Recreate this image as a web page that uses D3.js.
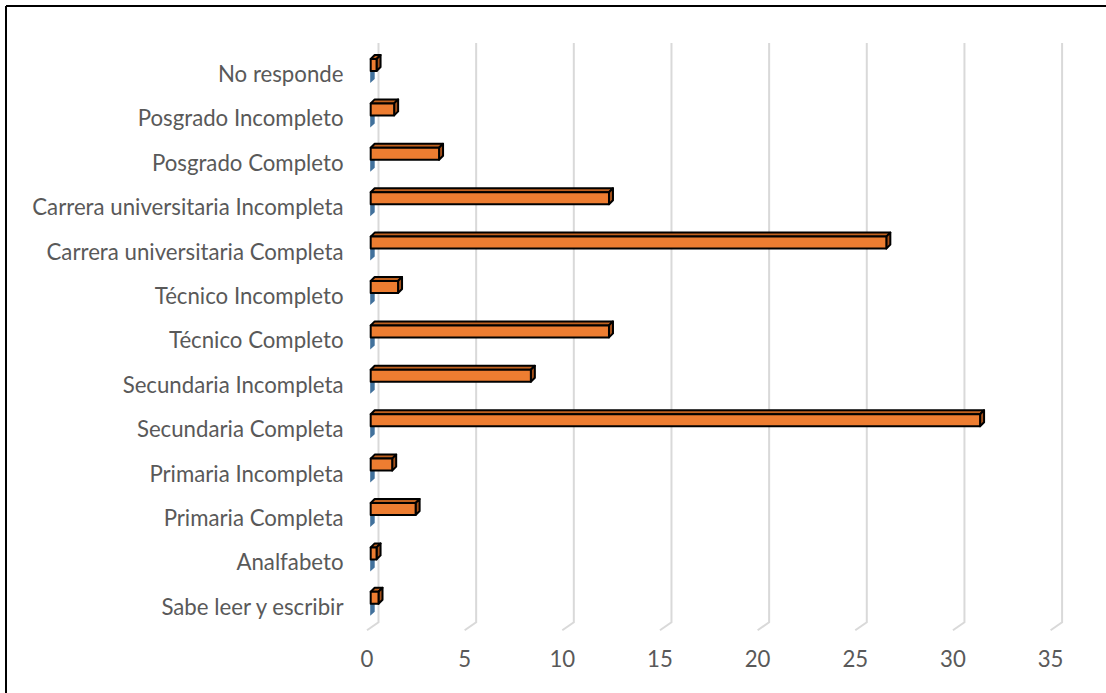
<!DOCTYPE html>
<html>
<head>
<meta charset="utf-8">
<script src="https://cdn.jsdelivr.net/npm/d3@7"></script>
<style>
  html, body { margin: 0; padding: 0; background: #fff; }
  svg { display: block; }
</style>
</head>
<body>
<svg id="chart" width="1106" height="693"></svg>
<script>
// ---- data (bottom to top as in the source sheet) ----
const categories = [
  "Sabe leer y escribir",
  "Analfabeto",
  "Primaria Completa",
  "Primaria Incompleta",
  "Secundaria Completa",
  "Secundaria Incompleta",
  "Técnico Completo",
  "Técnico Incompleto",
  "Carrera universitaria Completa",
  "Carrera universitaria Incompleta",
  "Posgrado Completo",
  "Posgrado Incompleto",
  "No responde"
];
const seriesMain = [0.4, 0.3, 2.3, 1.1, 31.2, 8.2, 12.2, 1.4, 26.4, 12.2, 3.5, 1.2, 0.3];
const seriesSecond = [0, 0, 0, 0, 0, 0, 0, 0, 0, 0, 0, 0, 0];
const tickValues = [0, 5, 10, 15, 20, 25, 30, 35];

// ---- layout ----
const svg = d3.select("#chart");
const W = 1106, H = 693;

const x = d3.scaleLinear().domain([0, 35]).range([367, 1050.6]);
const y = d3.scaleBand().domain(categories.slice().reverse()).range([51, 51 + 13 * 44.4]).paddingInner(0);

const backDx = 11.5, backDy = -8;   // floor depth
const gridTop = 43;
const floorFront = y.range()[1] + 2; // ~630
const barDx = 4, barDy = -4;         // bar depth
const barShift = 3.7;                 // bar plane offset from floor front
const barH = 12;

const textColor = "#595959";
const fontFamily = "Lato, 'Open Sans', 'Liberation Sans', sans-serif";

// border (top and left visible)
svg.append("line").attr("x1", 6).attr("y1", 6).attr("x2", W).attr("y2", 6)
  .attr("stroke", "#000").attr("stroke-width", 2);
svg.append("line").attr("x1", 6).attr("y1", 6).attr("x2", 6).attr("y2", H)
  .attr("stroke", "#000").attr("stroke-width", 2);

// font size fitted to the longest label width
const probe = svg.append("text").attr("font-family", fontFamily).attr("font-size", 20)
  .text("Carrera universitaria Completa");
const probeLen = probe.node().getComputedTextLength();
probe.remove();
const fontSize = Math.min(26, 20 * 297 / probeLen);

// gridlines
const grid = svg.append("g");
tickValues.forEach(v => {
  const xf = x(v);
  grid.append("path")
    .attr("d", `M${xf + backDx},${gridTop} L${xf + backDx},${floorFront + backDy} L${xf},${floorFront}`)
    .attr("fill", "none").attr("stroke", "#D9D9D9").attr("stroke-width", 2);
});

// x tick labels
svg.append("g").selectAll("text").data(tickValues).join("text")
  .attr("x", d => x(d))
  .attr("y", 666.5)
  .attr("text-anchor", "middle")
  .attr("font-family", fontFamily)
  .attr("font-size", fontSize)
  .attr("fill", textColor)
  .text(d => d);

// category labels
svg.append("g").selectAll("text").data(categories).join("text")
  .attr("x", 343.5)
  .attr("y", d => y(d) + y.bandwidth() / 2 + 8.8)
  .attr("text-anchor", "end")
  .attr("font-family", fontFamily)
  .attr("font-size", fontSize)
  .attr("fill", textColor)
  .text(d => d);

const x0 = x(0) + barShift;

// secondary (blue) series — zero-valued, only its depth side shows
const gBlue = svg.append("g");
categories.forEach((c, i) => {
  const t = y(c) + y.bandwidth() / 2 - 14.2 + barH;
  const x1 = x(seriesSecond[i]) + barShift;
  if (x1 > x0) {
    gBlue.append("rect").attr("x", x0).attr("y", t).attr("width", x1 - x0).attr("height", barH)
      .attr("fill", "#5B9BD5");
  }
  gBlue.append("path")
    .attr("d", `M${x1 - 0.5},${t} L${x1 + barDx},${t + barDy} L${x1 + barDx},${t + barDy + barH} L${x1 - 0.5},${t + barH} Z`)
    .attr("fill", "#41719C");
});

// main (orange) series, 3D bars
const gBars = svg.append("g");
categories.forEach((c, i) => {
  const t = y(c) + y.bandwidth() / 2 - 14.2;
  const x1 = x(seriesMain[i]) + barShift;
  const g = gBars.append("g").attr("stroke", "#000").attr("stroke-width", 2).attr("stroke-linejoin", "round");
  // top face
  g.append("path")
    .attr("d", `M${x0},${t} L${x0 + barDx},${t + barDy} L${x1 + barDx},${t + barDy} L${x1},${t} Z`)
    .attr("fill", "#C0611F");
  // side face
  g.append("path")
    .attr("d", `M${x1},${t} L${x1 + barDx},${t + barDy} L${x1 + barDx},${t + barDy + barH} L${x1},${t + barH} Z`)
    .attr("fill", "#A3501A");
  // front face
  g.append("rect").attr("x", x0).attr("y", t).attr("width", Math.max(0, x1 - x0)).attr("height", barH)
    .attr("fill", "#ED7D31");
});
</script>
</body>
</html>
